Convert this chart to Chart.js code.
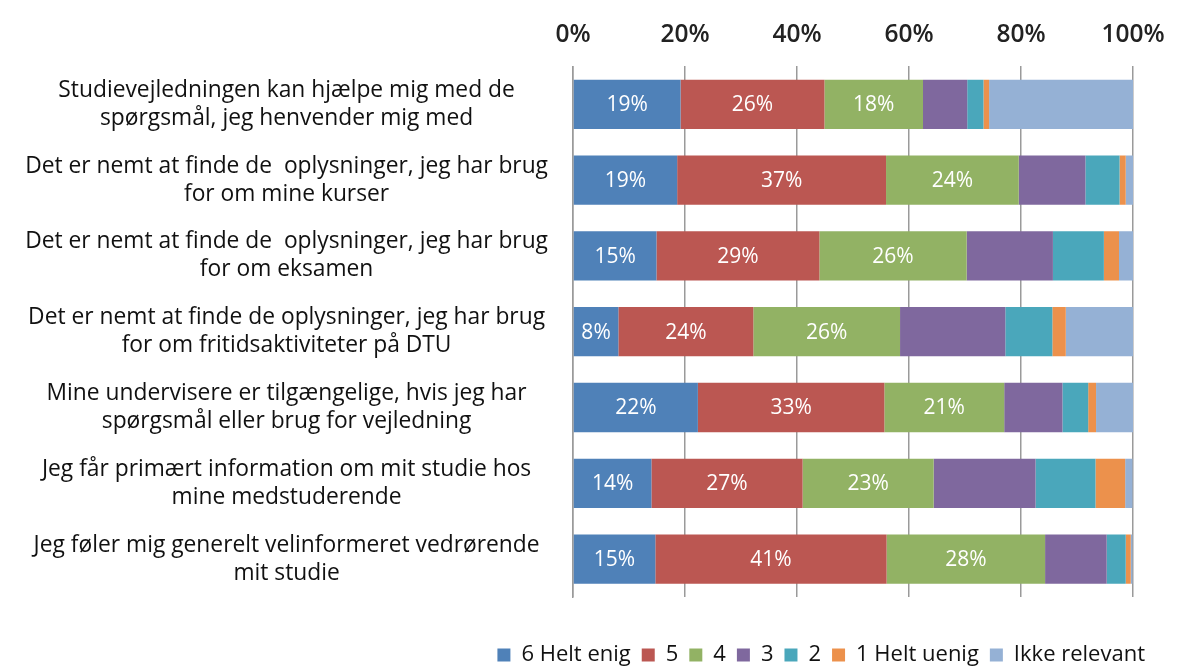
<!DOCTYPE html>
<html>
<head>
<meta charset="utf-8">
<script src="https://cdn.jsdelivr.net/npm/chart.js@4/dist/chart.umd.min.js"></script>
<style>
  html, body { margin: 0; padding: 0; background: #fff; }
  #wrap { width: 1192px; height: 669px; }
</style>
</head>
<body>
<div id="wrap"><canvas id="chart"></canvas></div>
<script>
var categories = [
  ["Studievejledningen kan hjælpe mig med de", "spørgsmål, jeg henvender mig med"],
  ["Det er nemt at finde de  oplysninger, jeg har brug", "for om mine kurser"],
  ["Det er nemt at finde de  oplysninger, jeg har brug", "for om eksamen"],
  ["Det er nemt at finde de oplysninger, jeg har brug", "for om fritidsaktiviteter på DTU"],
  ["Mine undervisere er tilgængelige, hvis jeg har", "spørgsmål eller brug for vejledning"],
  ["Jeg får primært information om mit studie hos", "mine medstuderende"],
  ["Jeg føler mig generelt velinformeret vedrørende", "mit studie"]
];

var seriesNames = ["6 Helt enig", "5", "4", "3", "2", "1 Helt uenig", "Ikke relevant"];

var helt_enig   = [19.2, 18.6, 14.9,  8.1, 22.3, 14.0, 14.7];
var fem         = [25.7, 37.3, 29.1, 24.1, 33.3, 27.0, 41.3];
var fire        = [17.6, 23.7, 26.3, 26.2, 21.4, 23.4, 28.3];
var tre         = [ 7.9, 11.9, 15.4, 18.8, 10.4, 18.2, 11.0];
var to          = [ 2.9,  6.1,  9.1,  8.4,  4.6, 10.7,  3.4];
var helt_uenig  = [ 1.0,  1.1,  2.7,  2.4,  1.4,  5.3,  0.9];
var ikke_rel    = [25.7,  1.3,  2.5, 12.1,  6.6,  1.3,  0.3];

var tickValues = [0, 20, 40, 60, 80, 100];

var colors = ["#4f81b8", "#bb5752", "#92b264", "#7f689e", "#4aa7bb", "#ec914c", "#95b1d5"];
var seriesValues = [helt_enig, fem, fire, tre, to, helt_uenig, ikke_rel];

var datasets = [];
for (var i = 0; i < seriesNames.length; i++) {
  datasets.push({
    label: seriesNames[i],
    data: seriesValues[i],
    backgroundColor: colors[i],
    borderWidth: 0,
    yAxisID: 'y',
    categoryPercentage: 0.65,
    barPercentage: 1.0
  });
}

// white percentage labels on the first three series
var segmentLabels = {
  id: 'segmentLabels',
  afterDatasetsDraw: function (chart) {
    var ctx = chart.ctx;
    ctx.save();
    ctx.fillStyle = '#ffffff';
    ctx.font = '21px "Open Sans", sans-serif';
    ctx.textAlign = 'center';
    ctx.textBaseline = 'middle';
    for (var d = 0; d < 3; d++) {
      var meta = chart.getDatasetMeta(d);
      meta.data.forEach(function (el, idx) {
        var v = chart.data.datasets[d].data[idx];
        ctx.fillText(Math.round(v) + '%', (el.x + el.base) / 2, el.y + 1);
      });
    }
    ctx.restore();
  }
};

Chart.defaults.font.family = '"Open Sans", sans-serif';
Chart.defaults.color = '#222';

new Chart(document.getElementById('chart'), {
  type: 'bar',
  data: { labels: categories, datasets: datasets },
  plugins: [segmentLabels],
  options: {
    indexAxis: 'y',
    responsive: true,
    maintainAspectRatio: false,
    animation: false,
    layout: { padding: { left: 10, right: 36, top: 3, bottom: -7 } },
    scales: {
      x: {
        position: 'top',
        stacked: true,
        min: 0,
        max: 100,
        afterBuildTicks: function (axis) {
          axis.ticks = tickValues.map(function (v) { return { value: v }; });
        },
        ticks: {
          padding: 17,
          font: { size: 24.5, weight: '600' },
          color: '#222',
          callback: function (v) { return v + '%'; }
        },
        grid: { color: '#9a9a9a', lineWidth: 1.5, drawTicks: false },
        border: { display: false }
      },
      y: {
        stacked: true,
        ticks: {
          crossAlign: 'center',
          padding: 25,
          font: { size: 22.8, lineHeight: 1.23 },
          color: '#111'
        },
        grid: { display: false, drawTicks: false },
        border: { display: true, color: '#9a9a9a', width: 1.5 },
        afterFit: function (s) { s.width = 563; }
      },
      yRight: {
        type: 'category',
        position: 'right',
        ticks: { display: false },
        grid: { display: false },
        border: { display: false },
        afterFit: function (s) { s.width = 23; }
      }
    },
    plugins: {
      tooltip: { enabled: false },
      legend: {
        position: 'bottom',
        align: 'end',
        title: { display: true, text: '', font: { size: 10, lineHeight: 1 }, padding: { top: 26, bottom: 0 } },
        labels: {
          boxWidth: 13,
          boxHeight: 13,
          padding: 11,
          font: { size: 22 },
          color: '#111'
        }
      }
    }
  }
});
</script>
</body>
</html>
